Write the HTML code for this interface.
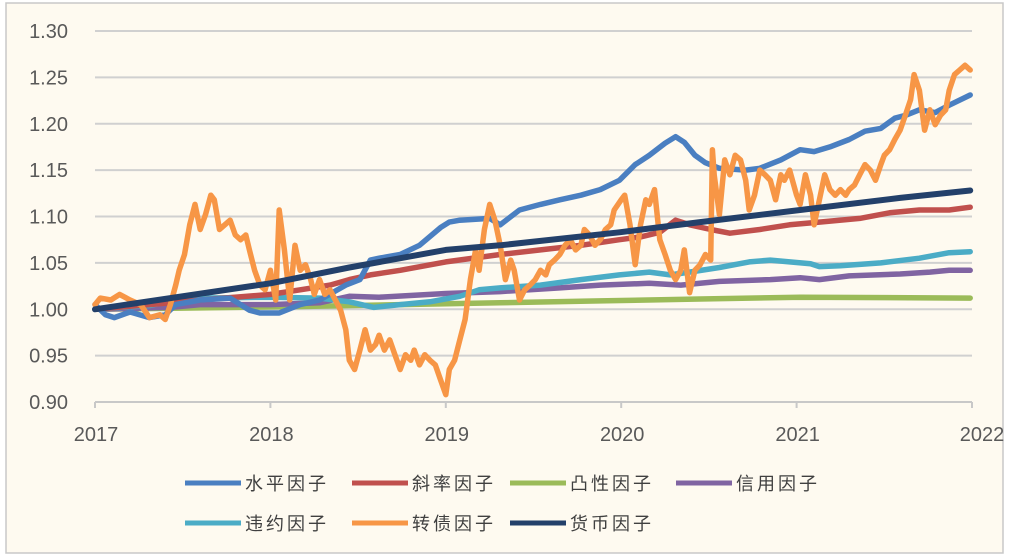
<!DOCTYPE html>
<html><head><meta charset="utf-8"><style>
html,body{margin:0;padding:0;background:#fff;}
svg{display:block;font-family:"Liberation Sans","Noto Sans CJK SC",sans-serif;}
</style></head><body>
<svg id="chart" width="1011" height="555" viewBox="0 0 1011 555">
<rect x="6" y="3" width="997" height="550" fill="#fefaf0" stroke="#c8c8c8" stroke-width="1.5"/>
<g id="grid"></g><g id="series"></g><g id="axes"></g><g id="legend"></g>
</svg>
<script>
const yTicks=[0.90,0.95,1.00,1.05,1.10,1.15,1.20,1.25,1.30];
const xTicks=[2017,2018,2019,2020,2021,2022];
const seriesNames=["水平因子","斜率因子","凸性因子","信用因子","违约因子","转债因子","货币因子"];
const seriesColors=["#4a7fc1","#c0504d","#9bbb59","#8064a2","#4bacc6","#f79646","#23406a"];
const levelData=[[2017.00,1.005],[2017.06,0.994],[2017.11,0.991],[2017.20,0.997],[2017.31,0.991],[2017.40,0.994],[2017.46,1.005],[2017.60,1.010],[2017.77,1.012],[2017.88,0.999],[2017.94,0.996],[2018.05,0.996],[2018.17,1.005],[2018.28,1.010],[2018.43,1.026],[2018.51,1.032],[2018.57,1.053],[2018.62,1.055],[2018.74,1.059],[2018.85,1.069],[2018.97,1.088],[2019.02,1.094],[2019.08,1.096],[2019.25,1.098],[2019.31,1.091],[2019.42,1.107],[2019.54,1.113],[2019.65,1.118],[2019.77,1.123],[2019.88,1.129],[2019.99,1.139],[2020.08,1.156],[2020.16,1.166],[2020.25,1.179],[2020.31,1.186],[2020.36,1.180],[2020.42,1.166],[2020.48,1.158],[2020.56,1.152],[2020.71,1.150],[2020.79,1.152],[2020.91,1.161],[2021.02,1.172],[2021.10,1.170],[2021.19,1.175],[2021.30,1.183],[2021.39,1.192],[2021.48,1.195],[2021.56,1.206],[2021.62,1.209],[2021.70,1.215],[2021.79,1.212],[2021.87,1.220],[2021.99,1.231]];
const slopeData=[[2017.00,1.000],[2017.31,1.005],[2017.60,1.010],[2018.00,1.016],[2018.17,1.021],[2018.34,1.026],[2018.45,1.032],[2018.57,1.037],[2018.74,1.042],[2019.00,1.051],[2019.31,1.059],[2019.54,1.064],[2019.77,1.069],[2019.88,1.072],[2019.99,1.075],[2020.11,1.078],[2020.22,1.083],[2020.31,1.096],[2020.39,1.091],[2020.51,1.086],[2020.62,1.082],[2020.79,1.086],[2020.96,1.091],[2021.13,1.094],[2021.36,1.098],[2021.53,1.104],[2021.70,1.107],[2021.87,1.107],[2021.99,1.110]];
const convexData=[[2017.00,1.000],[2018.17,1.003],[2018.74,1.005],[2019.31,1.007],[2019.88,1.009],[2020.45,1.011],[2021.02,1.013],[2021.99,1.012]];
const creditData=[[2017.00,1.000],[2017.43,1.002],[2017.60,1.005],[2018.00,1.005],[2018.28,1.007],[2018.45,1.014],[2018.62,1.013],[2019.00,1.017],[2019.31,1.019],[2019.65,1.023],[2019.88,1.026],[2020.16,1.028],[2020.34,1.026],[2020.56,1.030],[2020.85,1.032],[2021.02,1.034],[2021.13,1.032],[2021.30,1.036],[2021.59,1.038],[2021.76,1.040],[2021.87,1.042],[2021.99,1.042]];
const defaultData=[[2017.00,1.000],[2017.31,1.004],[2017.46,1.010],[2017.60,1.012],[2018.00,1.013],[2018.28,1.012],[2018.45,1.008],[2018.59,1.002],[2018.74,1.005],[2018.91,1.008],[2019.08,1.014],[2019.19,1.021],[2019.31,1.023],[2019.54,1.026],[2019.77,1.032],[2019.99,1.037],[2020.16,1.040],[2020.28,1.037],[2020.39,1.040],[2020.56,1.045],[2020.73,1.051],[2020.85,1.053],[2020.96,1.051],[2021.08,1.049],[2021.13,1.046],[2021.25,1.047],[2021.48,1.050],[2021.70,1.055],[2021.87,1.061],[2021.99,1.062]];
const cbondData=[[2017.00,1.005],[2017.03,1.012],[2017.09,1.010],[2017.14,1.016],[2017.20,1.010],[2017.26,1.005],[2017.31,0.991],[2017.37,0.994],[2017.40,0.989],[2017.43,1.005],[2017.46,1.026],[2017.48,1.042],[2017.51,1.059],[2017.54,1.091],[2017.57,1.113],[2017.60,1.086],[2017.63,1.102],[2017.66,1.123],[2017.68,1.118],[2017.71,1.086],[2017.74,1.091],[2017.77,1.096],[2017.80,1.080],[2017.83,1.075],[2017.86,1.080],[2017.88,1.064],[2017.91,1.042],[2017.94,1.026],[2017.97,1.021],[2018.00,1.042],[2018.03,1.010],[2018.05,1.107],[2018.08,1.064],[2018.11,1.010],[2018.14,1.069],[2018.17,1.042],[2018.20,1.048],[2018.23,1.032],[2018.25,1.016],[2018.28,1.032],[2018.31,1.016],[2018.34,1.021],[2018.40,0.999],[2018.43,0.978],[2018.45,0.945],[2018.48,0.935],[2018.51,0.956],[2018.54,0.978],[2018.57,0.956],[2018.60,0.962],[2018.62,0.972],[2018.65,0.956],[2018.68,0.967],[2018.71,0.951],[2018.74,0.935],[2018.77,0.951],[2018.80,0.945],[2018.82,0.956],[2018.85,0.940],[2018.88,0.951],[2018.91,0.945],[2018.94,0.940],[2018.97,0.924],[2019.00,0.908],[2019.02,0.935],[2019.05,0.945],[2019.08,0.967],[2019.11,0.989],[2019.14,1.032],[2019.17,1.064],[2019.19,1.042],[2019.22,1.086],[2019.25,1.113],[2019.28,1.096],[2019.31,1.069],[2019.34,1.032],[2019.37,1.053],[2019.39,1.042],[2019.42,1.010],[2019.45,1.021],[2019.48,1.026],[2019.51,1.032],[2019.54,1.042],[2019.57,1.037],[2019.59,1.048],[2019.62,1.053],[2019.65,1.059],[2019.68,1.069],[2019.71,1.075],[2019.74,1.064],[2019.77,1.069],[2019.79,1.086],[2019.82,1.080],[2019.85,1.069],[2019.88,1.075],[2019.91,1.086],[2019.94,1.091],[2019.96,1.107],[2020.00,1.118],[2020.02,1.123],[2020.05,1.091],[2020.08,1.048],[2020.11,1.091],[2020.14,1.118],[2020.16,1.113],[2020.19,1.129],[2020.22,1.075],[2020.25,1.059],[2020.28,1.042],[2020.31,1.032],[2020.34,1.042],[2020.36,1.064],[2020.39,1.018],[2020.42,1.042],[2020.45,1.048],[2020.48,1.059],[2020.51,1.053],[2020.52,1.172],[2020.53,1.145],[2020.56,1.102],[2020.59,1.161],[2020.62,1.145],[2020.65,1.166],[2020.68,1.161],[2020.71,1.139],[2020.73,1.107],[2020.76,1.123],[2020.79,1.150],[2020.82,1.145],[2020.85,1.139],[2020.88,1.118],[2020.91,1.145],[2020.93,1.139],[2020.96,1.150],[2021.00,1.123],[2021.02,1.113],[2021.05,1.145],[2021.08,1.123],[2021.10,1.091],[2021.13,1.118],[2021.16,1.145],[2021.19,1.129],[2021.22,1.123],[2021.25,1.129],[2021.28,1.123],[2021.30,1.129],[2021.33,1.134],[2021.36,1.145],[2021.39,1.156],[2021.42,1.150],[2021.45,1.139],[2021.48,1.156],[2021.50,1.166],[2021.53,1.172],[2021.56,1.183],[2021.59,1.193],[2021.62,1.209],[2021.65,1.226],[2021.67,1.253],[2021.70,1.236],[2021.73,1.193],[2021.76,1.215],[2021.79,1.199],[2021.82,1.209],[2021.85,1.215],[2021.87,1.236],[2021.90,1.253],[2021.93,1.258],[2021.96,1.263],[2021.99,1.258]];
const moneyData=[[2017.00,1.000],[2017.43,1.012],[2018.00,1.028],[2018.45,1.045],[2019.00,1.064],[2019.31,1.069],[2019.99,1.083],[2020.45,1.094],[2021.02,1.107],[2021.59,1.120],[2021.99,1.128]];

const X0=95,X1=972,Y0=402,Y1=31;
const sx=t=>X0+(t-2017)/(2022-2017)*(X1-X0);
const sy=v=>Y0-(v-0.90)/(1.30-0.90)*(Y0-Y1);
const NS="http://www.w3.org/2000/svg";
function mk(tag,attrs,parent){const e=document.createElementNS(NS,tag);for(const k in attrs)e.setAttribute(k,attrs[k]);parent.appendChild(e);return e;}
const grid=document.getElementById('grid'),axes=document.getElementById('axes'),ser=document.getElementById('series'),leg=document.getElementById('legend');
yTicks.forEach(v=>{
  if(v>0.9){const l=mk('line',{x1:X0,x2:X1,y1:sy(v),y2:sy(v),stroke:'#d0d0d0','stroke-width':2},grid);
  
  }
  const t=mk('text',{x:68,y:sy(v)+7,'text-anchor':'end','font-size':20,fill:'#595959'},axes);
  t.textContent=v.toFixed(2);
  
  
});
const ax=mk('line',{x1:X0,x2:X1,y1:Y0,y2:Y0,stroke:'#c8c8c8','stroke-width':2},axes);


xTicks.forEach(yr=>{
  const tk=mk('line',{x1:sx(yr),x2:sx(yr),y1:Y0,y2:Y0+6,stroke:'#c8c8c8','stroke-width':2},axes);
  
  
  const t=mk('text',{x:sx(yr)+(yr===2022?10:1),y:441,'text-anchor':'middle','font-size':20,fill:'#595959'},axes);
  t.textContent=yr;
  
  
});
const allData=[levelData,slopeData,convexData,creditData,defaultData,cbondData,moneyData];
const keys=["level","slope","convexity","credit","default","cbond","money"];
const order=[2,3,4,1,0,5,6];
order.forEach(i=>{
  const d=allData[i].map(p=>sx(p[0]).toFixed(1)+','+sy(p[1]).toFixed(1)).join(' ');
  const pl=mk('polyline',{points:d,fill:'none',stroke:seriesColors[i],'stroke-width':i===6?6:5.5,'stroke-linejoin':'round','stroke-linecap':'round'},ser);
  
  
});
const legPos=[[185,483],[352,483],[510,483],[676,483],[185,523],[352,523],[510,523]];
seriesNames.forEach((n,i)=>{
  const [x,y]=legPos[i];
  const g=mk('g',{},leg);
  
  
  mk('line',{x1:x,x2:x+56,y1:y,y2:y,stroke:seriesColors[i],'stroke-width':5},g);
  const t=mk('text',{x:x+60,y:y+7,'font-size':18,fill:'#404040','letter-spacing':3},g);
  t.textContent=n;
});
</script>
</body></html>
